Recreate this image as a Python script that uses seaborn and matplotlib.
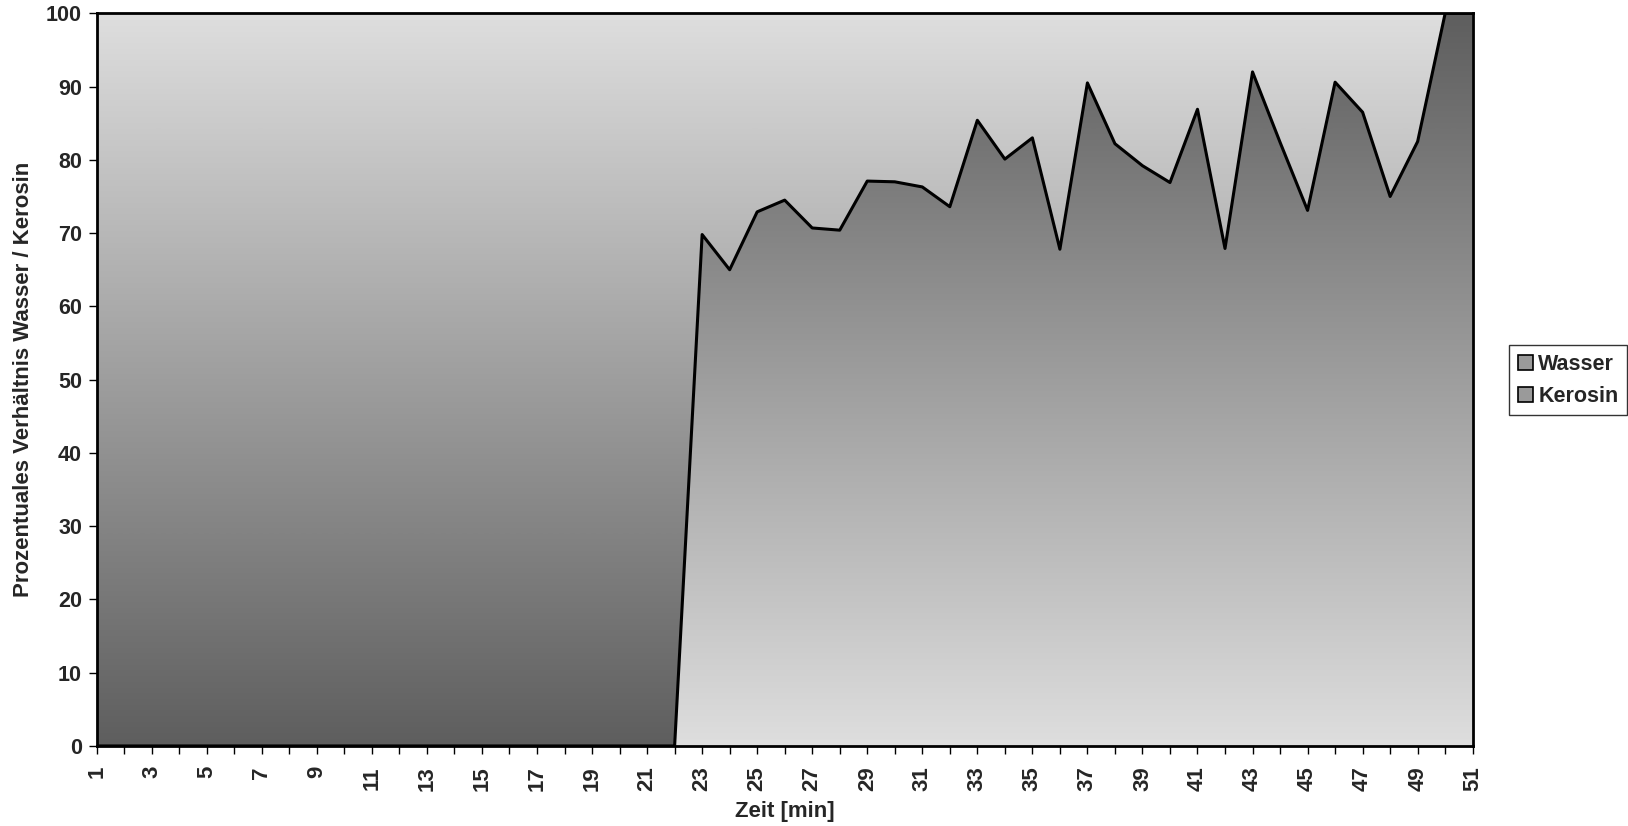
import numpy as np
import pandas as pd
import matplotlib
matplotlib.use("Agg")
import matplotlib.pyplot as plt
import seaborn as sns
from matplotlib.patches import Patch
from matplotlib.colors import LinearSegmentedColormap

# data
zeit = list(range(1, 52))
wasser = [0] * 22 + [
    69.8, 65.0, 72.9, 74.5, 70.7, 70.4, 77.1, 77.0, 76.3, 73.6,
    85.4, 80.1, 83.0, 67.8, 90.5, 82.2, 79.2, 76.9, 86.9, 67.9,
    92.0, 82.4, 73.1, 90.6, 86.5, 75.0, 82.5, 100.0, 100.0,
]
kerosin = [100 - w for w in wasser]
series_names = ["Wasser", "Kerosin"]
x_labels = [str(z) if z % 2 == 1 else "" for z in zeit]
y_ticks = list(range(0, 101, 10))

df = pd.DataFrame({"Zeit": zeit, "Wasser": wasser, "Kerosin": kerosin})

sns.set_style("white")
plt.rcParams["font.family"] = ["Liberation Sans", "DejaVu Sans"]
plt.rcParams["font.weight"] = "bold"

fig = plt.figure(figsize=(16.28, 8.26), dpi=100)
ax = fig.add_axes([0.0594, 0.0969, 0.9046 - 0.0594, 0.9839 - 0.0969])

light, dark = "#dedede", "#5e5e5e"
cmap_w = LinearSegmentedColormap.from_list("w", [dark, light])   # top dark, bottom light
cmap_k = LinearSegmentedColormap.from_list("k", [light, dark])   # top light, bottom dark
grad = np.linspace(0, 1, 256).reshape(-1, 1)

bottom = np.zeros(len(df))
for name, cmap in zip(series_names, [cmap_w, cmap_k]):
    top = bottom + df[name].values
    poly = ax.fill_between(df["Zeit"], bottom, top, facecolor="none", edgecolor="none")
    img = ax.imshow(grad, cmap=cmap, extent=[1, 51, 0, 100], origin="upper",
                    aspect="auto", interpolation="bilinear", zorder=1)
    img.set_clip_path(poly.get_paths()[0], transform=ax.transData)
    bottom = top

sns.lineplot(data=df, x="Zeit", y="Wasser", color="black", linewidth=2.2, ax=ax, zorder=3)

ax.set_xlim(1, 51)
ax.set_ylim(0, 100)
ax.set_xticks(zeit)
ax.set_xticklabels(x_labels, rotation=90, fontsize=16, fontweight="bold")
ax.set_yticks(y_ticks)
ax.set_yticklabels([str(t) for t in y_ticks], fontsize=15.5, fontweight="bold")
ax.tick_params(axis="both", direction="out", length=5.5, width=1.0, color="black", pad=5,
               bottom=True, left=True)
ax.tick_params(axis="x", pad=9)
for sp in ax.spines.values():
    sp.set_color("black")
    sp.set_linewidth(2.0)
    sp.set_visible(True)

ax.set_xlabel("Zeit [min]", fontsize=16, fontweight="bold", labelpad=7)
ax.set_ylabel("Prozentuales Verhältnis Wasser / Kerosin", fontsize=16, fontweight="bold", labelpad=9)

handles = [Patch(facecolor="#9a9a9a", edgecolor="black", linewidth=1.2, label=n) for n in series_names]
leg = fig.legend(handles=handles, loc="upper left", bbox_to_anchor=(0.927, 0.582),
                 frameon=True, fancybox=False, edgecolor="black", fontsize=15.5,
                 handlelength=0.7, handleheight=0.7, handletextpad=0.25,
                 borderpad=0.4, labelspacing=0.5, borderaxespad=0)
leg.get_frame().set_linewidth(1.0)
for t in leg.get_texts():
    t.set_fontweight("bold")

fig.savefig("out.png", dpi=100)
